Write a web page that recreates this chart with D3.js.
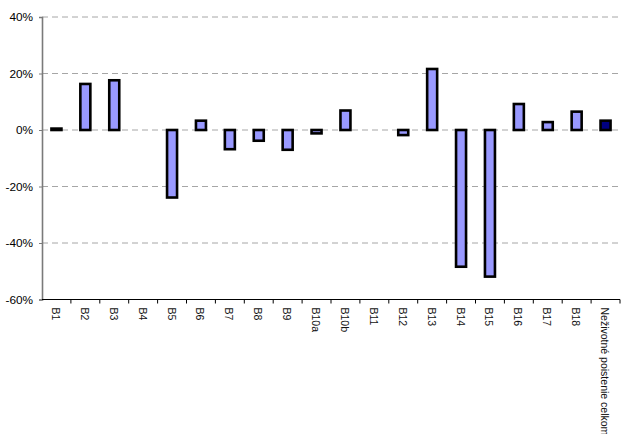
<!DOCTYPE html>
<html>
<head>
<meta charset="utf-8">
<script src="https://cdn.jsdelivr.net/npm/d3@7"></script>
<style>
  html, body { margin: 0; padding: 0; background: #fff; }
  svg { display: block; font-family: "Liberation Sans", Arial, sans-serif; }
</style>
</head>
<body>
<svg id="chart" width="621" height="434"></svg>
<script>
// Categories (insurance lines) and their year-on-year change in %
const categories = ["B1", "B2", "B3", "B4", "B5", "B6", "B7", "B8", "B9", "B10a", "B10b",
  "B11", "B12", "B13", "B14", "B15", "B16", "B17", "B18", "Neživotné poistenie celkom"];
const values = [0.5, 16.3, 17.6, 0, -23.9, 3.3, -6.8, -3.8, -7.0, -1.2, 6.9,
  0, -1.8, 21.6, -48.4, -51.9, 9.2, 2.8, 6.5, 3.3];
const yTicks = [-60, -40, -20, 0, 20, 40];

const svg = d3.select("#chart");
const plotLeft = 42, plotRight = 620, plotTop = 17, plotBottom = 299.5;

const x = d3.scaleBand().domain(categories).range([plotLeft, plotRight]);
const y = d3.scaleLinear().domain([-60, 40]).range([plotBottom, plotTop]);

// dashed horizontal gridlines
svg.append("g").selectAll("line")
  .data(yTicks.filter(d => d !== -60))
  .join("line")
  .attr("x1", plotLeft).attr("x2", plotRight)
  .attr("y1", d => y(d)).attr("y2", d => y(d))
  .attr("stroke", "#a6a6a6").attr("stroke-width", 1)
  .attr("stroke-dasharray", "6,4");

// y axis
const yAxis = d3.axisLeft(y).tickValues(yTicks).tickSize(3).tickPadding(6)
  .tickFormat(d => d + "%");
const gy = svg.append("g").attr("transform", `translate(${plotLeft},0)`).call(yAxis);
gy.select(".domain").attr("stroke", "#7a7a7a").attr("stroke-width", 1.6);
gy.selectAll(".tick line").attr("stroke", "#7a7a7a");
gy.selectAll("text").attr("font-size", 11.8).attr("fill", "#000")
  .attr("font-family", "'Liberation Sans', Arial, sans-serif");

// bars
const barW = 10;
svg.append("g").selectAll("rect")
  .data(categories.map((c, i) => ({ c, v: values[i], i })))
  .join("rect")
  .attr("x", d => x(d.c) + x.bandwidth() / 2 - barW / 2)
  .attr("width", barW)
  .attr("y", d => y(Math.max(0, d.v)))
  .attr("height", d => Math.abs(y(d.v) - y(0)))
  .attr("fill", d => d.i === categories.length - 1 ? "#000080" : "#9999ff")
  .attr("stroke", "#000").attr("stroke-width", 2.6);

// x axis at the bottom, ticks between categories
const gx = svg.append("g");
gx.append("line")
  .attr("x1", plotLeft).attr("x2", plotRight)
  .attr("y1", plotBottom).attr("y2", plotBottom)
  .attr("stroke", "#000").attr("stroke-width", 1.2);
gx.selectAll("line.tk")
  .data(categories)
  .join("line").attr("class", "tk")
  .attr("x1", d => x(d) + x.step())
  .attr("x2", d => x(d) + x.step())
  .attr("y1", plotBottom).attr("y2", plotBottom + 4)
  .attr("stroke", "#000");

// rotated category labels
gx.selectAll("text")
  .data(categories)
  .join("text")
  .attr("transform", d => `translate(${x(d) + x.bandwidth() / 2 - 4.5},${plotBottom + 8}) rotate(90)`)
  .attr("font-size", 10.5)
  .attr("fill", "#111")
  .text(d => d);
</script>
</body>
</html>
